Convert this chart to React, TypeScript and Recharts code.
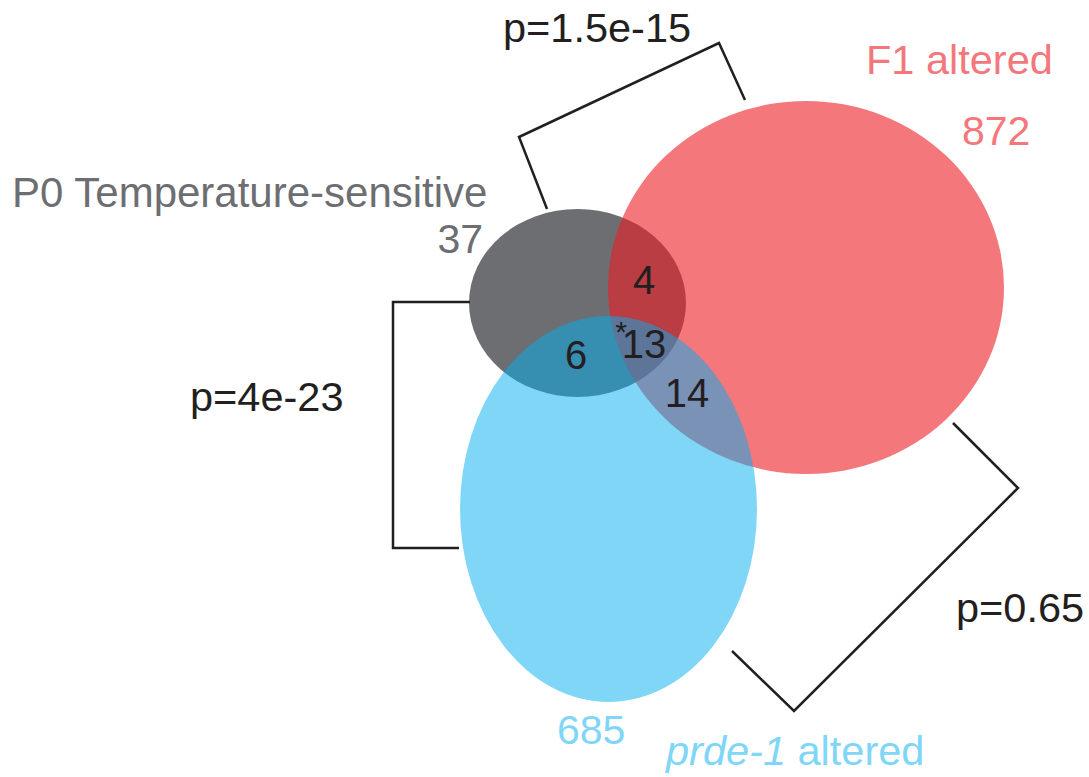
import React from 'react';
import { ComposedChart, XAxis, YAxis, ReferenceArea, Line, Scatter } from 'recharts';

const W = 1089;
const H = 777;

// sets: names, unique counts, colours
const setNames = ['P0 Temperature-sensitive', 'F1 altered', 'prde-1 altered'];
const setOnly = [37, 872, 685];
const setFill = ['#6D6E71', '#ED1C24', '#00AEEF'];
const setOpacity = [1, 0.6, 0.5];
const setText = ['#6D6E71', '#F3777B', '#80D6F7'];

// overlaps: P0&F1, P0&prde, F1&prde, all three
const overlapCounts = [4, 6, 14, 13];

const pValues = ['p=1.5e-15', 'p=4e-23', 'p=0.65'];

// ellipse bounding boxes (picture units, y down)
const setBoxes = [
  { x1: 469, x2: 686, y1: 209, y2: 397 },
  { x1: 608, x2: 1004, y1: 101, y2: 474 },
  { x1: 460, x2: 757, y1: 316, y2: 702 },
];

// bracket paths for the p-values
const brackets = [
  [{ x: 547, y: 209 }, { x: 519, y: 137 }, { x: 719, y: 43 }, { x: 745, y: 100 }],
  [{ x: 470, y: 302 }, { x: 393, y: 302 }, { x: 393, y: 548 }, { x: 459, y: 548 }],
  [{ x: 953, y: 423 }, { x: 1018, y: 488 }, { x: 794, y: 711 }, { x: 732, y: 651 }],
];

// label anchors (baseline)
const setNamePos = [
  { x: 12, y: 207, anchor: 'start' },
  { x: 866, y: 74, anchor: 'start' },
  { x: 666, y: 765, anchor: 'start' },
];
const setOnlyPos = [
  { x: 483, y: 253, anchor: 'end' },
  { x: 962, y: 145, anchor: 'start' },
  { x: 557, y: 744, anchor: 'start' },
];
const overlapPos = [
  { x: 644, y: 294, anchor: 'middle' },
  { x: 576, y: 369, anchor: 'middle' },
  { x: 687, y: 407, anchor: 'middle' },
  { x: 644, y: 358, anchor: 'middle' },
];
const pPos = [
  { x: 503, y: 42, anchor: 'start' },
  { x: 190, y: 411, anchor: 'start' },
  { x: 956, y: 622, anchor: 'start' },
];
const starPos = { x: 621, y: 342 };

const FONT = '"Liberation Sans", Arial, Helvetica, sans-serif';

type Lab = { x: number; y: number; anchor: string; text: string; color: string; size: number };

const labels: Lab[] = [
  ...setNames.map((t, i) => ({ ...setNamePos[i], text: t, color: setText[i], size: i === 0 ? 42 : 41.5 })),
  ...setOnly.map((v, i) => ({ ...setOnlyPos[i], text: String(v), color: setText[i], size: 41 })),
  ...overlapCounts.map((v, i) => ({ ...overlapPos[i], text: String(v), color: '#231F20', size: 40 })),
  ...pValues.map((t, i) => ({ ...pPos[i], text: t, color: '#231F20', size: 41.5 })),
  { ...starPos, anchor: 'middle', text: '*', color: '#231F20', size: 30 },
];

const LabelShape = (props: any) => {
  const { cx, cy, payload } = props;
  const d: Lab = payload;
  const italic = d.text.startsWith('prde-1');
  return (
    <text x={cx} y={cy} textAnchor={d.anchor} fill={d.color} fontSize={d.size} fontFamily={FONT}>
      {italic ? (
        <>
          <tspan fontStyle="italic">prde-1</tspan>
          <tspan>{d.text.slice(6)}</tspan>
        </>
      ) : (
        d.text
      )}
    </text>
  );
};

const App: React.FC = () => (
  <div style={{ position: 'absolute', left: 0, top: 0, width: W, height: H, background: '#fff' }}>
    <ComposedChart width={W} height={H} margin={{ top: 0, right: 0, bottom: 0, left: 0 }}>
      <XAxis type="number" dataKey="x" domain={[0, W]} hide allowDataOverflow />
      <YAxis type="number" dataKey="y" domain={[0, H]} reversed hide allowDataOverflow />
      {setBoxes.map((b, i) => (
        <ReferenceArea
          key={`set-${i}`}
          {...b}
          ifOverflow="visible"
          shape={(p: any) => (
            <ellipse
              cx={p.x + p.width / 2}
              cy={p.y + p.height / 2}
              rx={Math.abs(p.width) / 2}
              ry={Math.abs(p.height) / 2}
              fill={setFill[i]}
              fillOpacity={setOpacity[i]}
            />
          )}
        />
      ))}
      {brackets.map((pts, i) => (
        <Line
          key={`br-${i}`}
          data={pts}
          dataKey="y"
          type="linear"
          stroke="#231F20"
          strokeWidth={2.5}
          dot={false}
          activeDot={false}
          isAnimationActive={false}
        />
      ))}
      <Scatter data={labels} shape={<LabelShape />} isAnimationActive={false} />
    </ComposedChart>
  </div>
);

export default App;
